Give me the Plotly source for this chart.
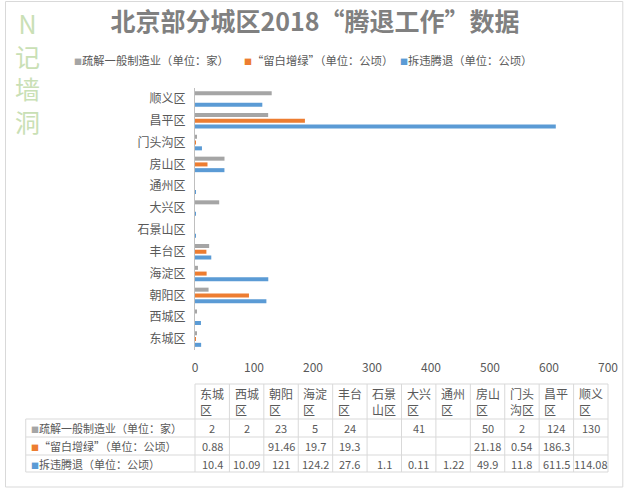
import plotly.graph_objects as go

# ---- data ----
categories = ["东城区", "西城区", "朝阳区", "海淀区", "丰台区", "石景山区",
              "大兴区", "通州区", "房山区", "门头沟区", "昌平区", "顺义区"]
series_names = ["疏解一般制造业（单位：家）", "“留白增绿”（单位：公顷）", "拆违腾退（单位：公顷）"]
shujie = [2, 2, 23, 5, 24, None, 41, None, 50, 2, 124, 130]
liubai = [0.88, None, 91.46, 19.7, 19.3, None, None, None, 21.18, 0.54, 186.3, None]
chaiwei = [10.4, 10.09, 121, 124.2, 27.6, 1.1, 0.11, 1.22, 49.9, 11.8, 611.5, 114.08]
x_ticks = [0, 100, 200, 300, 400, 500, 600, 700]
title_text = "北京部分城区2018“腾退工作”数据"
watermark = "N记墙洞"

series_values = [shujie, liubai, chaiwei]
colors = ["#a5a5a5", "#ed7d31", "#5b9bd5"]

FONT = "Noto Sans CJK SC"
TXT = "#595959"
GRID = "#d9d9d9"

W, H = 630, 489
L, R, T, B = 194.5, 613, 88, 350  # plot area in pixels


def px(x):
    return (x - L) / (R - L)


def py(y):
    return (B - y) / (B - T)


fig = go.Figure()
# draw in reverse so the first series sits on top inside each group
for i in [2, 1, 0]:
    fig.add_trace(go.Bar(
        y=categories, x=series_values[i], orientation="h",
        name=series_names[i], marker=dict(color=colors[i], line=dict(width=0)),
        showlegend=False,
    ))

shapes = []
annotations = []

# outer border
shapes.append(dict(type="rect", xref="paper", yref="paper",
                   x0=px(2.5), x1=px(628), y0=py(487), y1=py(1.5),
                   line=dict(color=GRID, width=1), fillcolor="rgba(0,0,0,0)", layer="below"))

# watermark
annotations.append(dict(text="<br>".join(list(watermark)), xref="paper", yref="paper",
                        x=px(25), y=py(72), xanchor="center", yanchor="middle",
                        showarrow=False, align="center",
                        font=dict(family=FONT, size=25, color="#c9e0b5")))

# legend (custom, top)
leg_x = [70, 242, 400]
for i, name in enumerate(series_names):
    annotations.append(dict(
        text=f'<span style="color:{colors[i]};font-size:8px">■</span>{name}',
        xref="paper", yref="paper", x=px(leg_x[i]), y=py(60),
        xanchor="left", yanchor="middle", showarrow=False,
        font=dict(family=FONT, size=11.3, color=TXT)))

# data table
n = len(categories)
col_x = [L + (R - L) * k / n for k in range(n + 1)]
row_y = [384, 419, 437, 455, 472]
tbl_left = 23
line_style = dict(color=GRID, width=1)
# horizontal lines
shapes.append(dict(type="line", xref="paper", yref="paper", x0=px(col_x[0]), x1=px(col_x[-1]),
                   y0=py(row_y[0]), y1=py(row_y[0]), line=line_style))
for yy in row_y[1:]:
    shapes.append(dict(type="line", xref="paper", yref="paper", x0=px(tbl_left), x1=px(col_x[-1]),
                       y0=py(yy), y1=py(yy), line=line_style))
# vertical lines
shapes.append(dict(type="line", xref="paper", yref="paper", x0=px(tbl_left), x1=px(tbl_left),
                   y0=py(row_y[1]), y1=py(row_y[-1]), line=line_style))
for xx in col_x:
    shapes.append(dict(type="line", xref="paper", yref="paper", x0=px(xx), x1=px(xx),
                       y0=py(row_y[0]), y1=py(row_y[-1]), line=line_style))

# header cells
for k, c in enumerate(categories):
    lines = [c[j:j + 2] for j in range(0, len(c), 2)]
    annotations.append(dict(text="<br>".join(lines), xref="paper", yref="paper",
                            x=px((col_x[k] + col_x[k + 1]) / 2), y=py((row_y[0] + row_y[1]) / 2),
                            xanchor="center", yanchor="middle", align="left", showarrow=False,
                            font=dict(family=FONT, size=12, color=TXT)))

# row labels and values
for r_i, (name, vals) in enumerate(zip(series_names, series_values)):
    yc = py((row_y[r_i + 1] + row_y[r_i + 2]) / 2)
    annotations.append(dict(
        text=f'<span style="color:{colors[r_i]};font-size:8px">■</span>{name}',
        xref="paper", yref="paper", x=px(tbl_left + 3), y=yc,
        xanchor="left", yanchor="middle", showarrow=False,
        font=dict(family=FONT, size=11, color=TXT)))
    for k, v in enumerate(vals):
        if v is None:
            continue
        annotations.append(dict(text=f"{v:g}", xref="paper", yref="paper",
                                x=px((col_x[k] + col_x[k + 1]) / 2), y=yc,
                                xanchor="center", yanchor="middle", showarrow=False,
                                font=dict(family=FONT, size=11, color=TXT)))

fig.update_layout(
    width=W, height=H,
    margin=dict(l=L, r=W - R, t=T, b=H - B, pad=0),
    paper_bgcolor="white", plot_bgcolor="white",
    barmode="group", bargap=0.21, bargroupgap=0.3,
    title=dict(text=f"<b>{title_text}</b>", x=0.5, xref="container", xanchor="center",
               y=1 - 22 / H, yref="container", yanchor="middle",
               font=dict(family=FONT, size=25, color="#808080")),
    xaxis=dict(range=[0, 700], tickvals=x_ticks, showgrid=False, zeroline=False,
               showline=False, ticks="", ticklabelstandoff=9,
               tickfont=dict(family=FONT, size=12, color=TXT), fixedrange=True),
    yaxis=dict(type="category", categoryorder="array", categoryarray=categories,
               showgrid=False, zeroline=False, showline=True, linecolor="#bfbfbf",
               linewidth=1, ticks="", ticklabelstandoff=6,
               tickfont=dict(family=FONT, size=12, color=TXT), fixedrange=True),
    shapes=shapes, annotations=annotations,
    showlegend=False,
)

fig.write_html("out.html", config={"displayModeBar": False},
               post_script="document.body.style.margin='0';")
